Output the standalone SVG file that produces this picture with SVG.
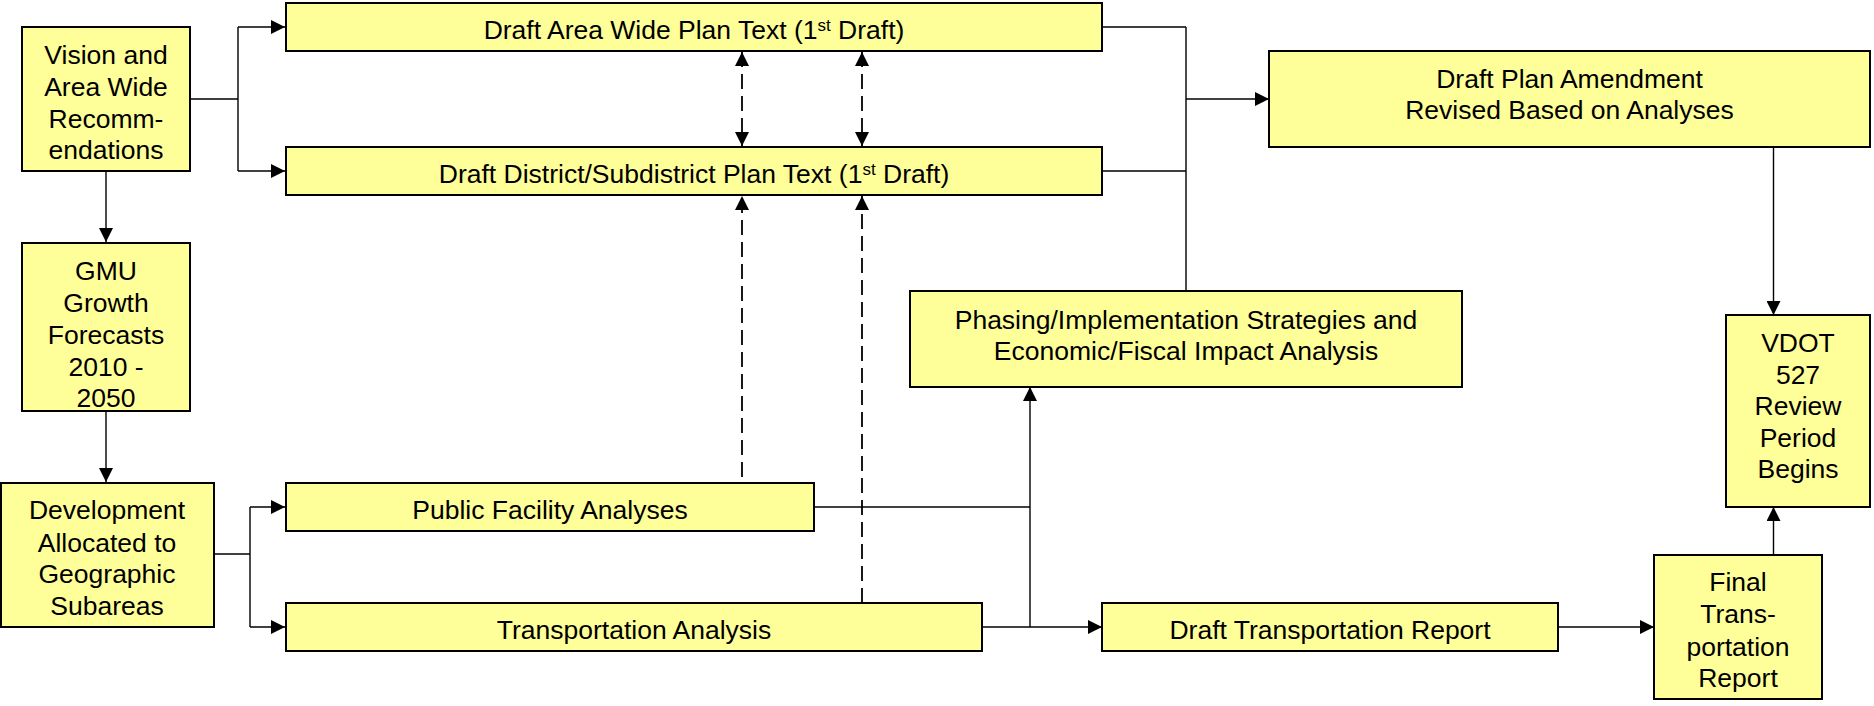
<svg xmlns="http://www.w3.org/2000/svg" width="1874" height="706" viewBox="0 0 1874 706">
<style>
.box{fill:#FFFF99;stroke:#000;stroke-width:2}
.t{font-family:"Liberation Sans",Arial,sans-serif;font-size:26.5px;fill:#000;text-anchor:middle}
.c{fill:none;stroke:#000;stroke-width:1.4}
.d{fill:none;stroke:#000;stroke-width:1.8;stroke-dasharray:15 7}
.sup{font-size:17px}
</style>
<defs>
<marker id="ah" viewBox="0 0 14 14" refX="14" refY="7" markerWidth="14" markerHeight="14" markerUnits="userSpaceOnUse" orient="auto-start-reverse">
<path d="M0,0 L14,7 L0,14 Z" fill="#000"/>
</marker>
</defs>
<rect width="1874" height="706" fill="#fff"/>
<g id="connectors">
<path class="c" d="M190,99 H238 M238,27 V171"/>
<path class="c" marker-end="url(#ah)" d="M238,27 H285"/>
<path class="c" marker-end="url(#ah)" d="M238,171 H285"/>
<path class="c" marker-end="url(#ah)" d="M106,171 V242"/>
<path class="c" marker-end="url(#ah)" d="M106,411 V482"/>
<path class="c" d="M214,554 H250 M250,507 V627"/>
<path class="c" marker-end="url(#ah)" d="M250,507 H285"/>
<path class="c" marker-end="url(#ah)" d="M250,627 H285"/>
<path class="c" d="M1102,27 H1186 M1102,171 H1186 M1186,27 V291"/>
<path class="c" marker-end="url(#ah)" d="M1186,99 H1269"/>
<path class="c" marker-end="url(#ah)" d="M1773.5,147 V315"/>
<path class="c" marker-end="url(#ah)" d="M1773.5,555 V507"/>
<path class="c" marker-end="url(#ah)" d="M1558,627 H1654"/>
<path class="c" marker-end="url(#ah)" d="M982,627 H1102"/>
<path class="c" d="M814,507 H1030"/>
<path class="c" marker-end="url(#ah)" d="M1030,627 V387"/>
<path class="d" marker-start="url(#ah)" marker-end="url(#ah)" d="M742,52 V146"/>
<path class="d" marker-start="url(#ah)" marker-end="url(#ah)" d="M862,52 V146"/>
<path class="d" marker-end="url(#ah)" d="M742,477 V196"/>
<path class="d" marker-end="url(#ah)" d="M862,603 V196"/>
</g>
<g id="vision">
<rect class="box" x="22" y="27" width="168" height="144"/>
<text class="t"><tspan x="106" y="64">Vision and</tspan><tspan x="106" y="96">Area Wide</tspan><tspan x="106" y="128">Recomm-</tspan><tspan x="106" y="159">endations</tspan></text>
</g>
<g id="gmu">
<rect class="box" x="22" y="243" width="168" height="168"/>
<text class="t"><tspan x="106" y="280">GMU</tspan><tspan x="106" y="312">Growth</tspan><tspan x="106" y="344">Forecasts</tspan><tspan x="106" y="376">2010 -</tspan><tspan x="106" y="407">2050</tspan></text>
</g>
<g id="development">
<rect class="box" x="1" y="483" width="213" height="144"/>
<text class="t"><tspan x="107" y="519">Development</tspan><tspan x="107" y="552">Allocated to</tspan><tspan x="107" y="583">Geographic</tspan><tspan x="107" y="615">Subareas</tspan></text>
</g>
<g id="areawide">
<rect class="box" x="286" y="3" width="816" height="48"/>
<text class="t" x="694" y="39">Draft Area Wide Plan Text (1<tspan class="sup" dy="-8">st</tspan><tspan dy="8"> Draft)</tspan></text>
</g>
<g id="district">
<rect class="box" x="286" y="147" width="816" height="48"/>
<text class="t" x="694" y="183">Draft District/Subdistrict Plan Text (1<tspan class="sup" dy="-8">st</tspan><tspan dy="8"> Draft)</tspan></text>
</g>
<g id="amendment">
<rect class="box" x="1269" y="51" width="601" height="96"/>
<text class="t"><tspan x="1569.5" y="88">Draft Plan Amendment</tspan><tspan x="1569.5" y="119">Revised Based on Analyses</tspan></text>
</g>
<g id="phasing">
<rect class="box" x="910" y="291" width="552" height="96"/>
<text class="t"><tspan x="1186" y="329">Phasing/Implementation Strategies and</tspan><tspan x="1186" y="360">Economic/Fiscal Impact Analysis</tspan></text>
</g>
<g id="publicfacility">
<rect class="box" x="286" y="483" width="528" height="48"/>
<text class="t" x="550" y="519">Public Facility Analyses</text>
</g>
<g id="transportation">
<rect class="box" x="286" y="603" width="696" height="48"/>
<text class="t" x="634" y="639">Transportation Analysis</text>
</g>
<g id="drafttransport">
<rect class="box" x="1102" y="603" width="456" height="48"/>
<text class="t" x="1330" y="639">Draft Transportation Report</text>
</g>
<g id="vdot">
<rect class="box" x="1726" y="315" width="144" height="192"/>
<text class="t"><tspan x="1798" y="352">VDOT</tspan><tspan x="1798" y="384">527</tspan><tspan x="1798" y="415">Review</tspan><tspan x="1798" y="447">Period</tspan><tspan x="1798" y="478">Begins</tspan></text>
</g>
<g id="finaltransport">
<rect class="box" x="1654" y="555" width="168" height="144"/>
<text class="t"><tspan x="1738" y="591">Final</tspan><tspan x="1738" y="623">Trans-</tspan><tspan x="1738" y="656">portation</tspan><tspan x="1738" y="687">Report</tspan></text>
</g>
</svg>
